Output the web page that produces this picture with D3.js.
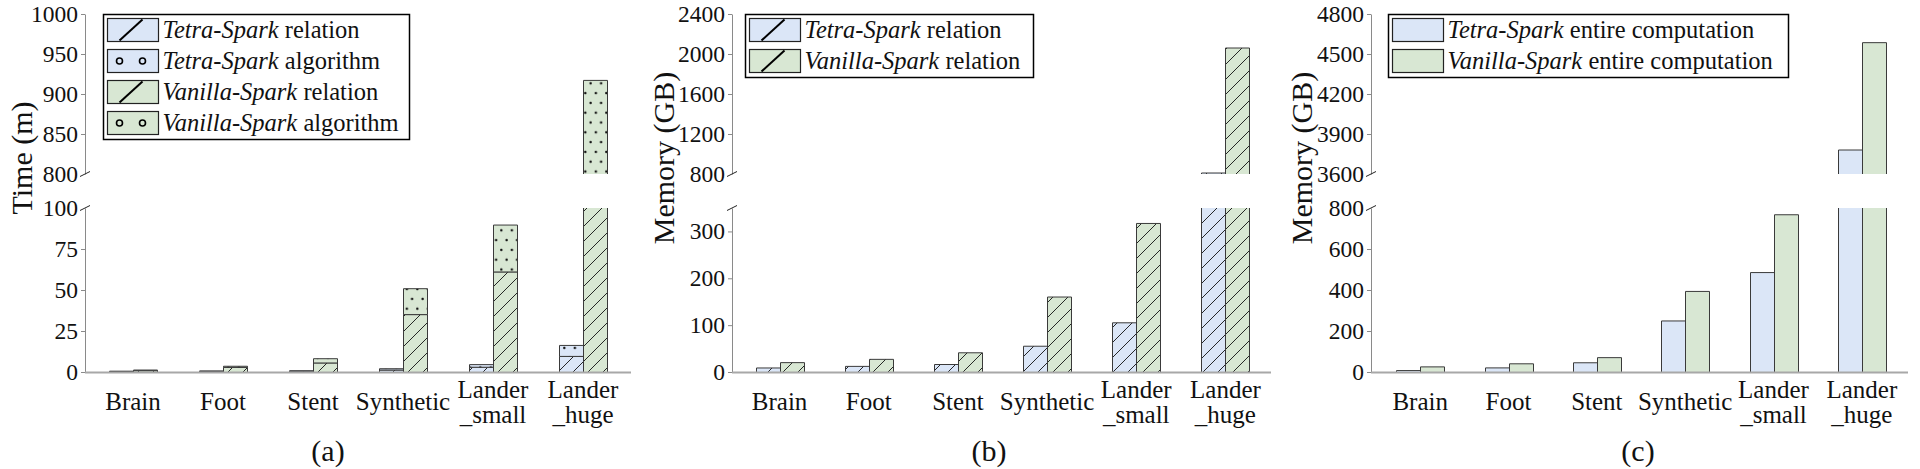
<!DOCTYPE html>
<html><head><meta charset="utf-8">
<script src="https://cdn.jsdelivr.net/npm/d3@7"></script>
<style>
body{margin:0;background:#fff}
svg{display:block}
text{font-family:"Liberation Serif","Times New Roman",serif}
</style>
</head><body>
<svg id="chart" width="1920" height="469"></svg>
<script>
// ---------------- data ----------------
const categories = [["Brain"],["Foot"],["Stent"],["Synthetic"],["Lander","_small"],["Lander","_huge"]];

// (a) time in minutes
const timeTetraRelation    = [0.3, 0.4, 0.5, 1.2, 2.9, 9.5];
const timeTetraAlgorithm   = [0.2, 0.2, 0.2, 0.8, 1.6, 6.7];
const timeVanillaRelation  = [0.8, 2.8, 5.5, 35, 61, 600];
const timeVanillaAlgorithm = [0.4, 0.7, 2.6, 15.8, 28.6, 317];

// (b) memory of relation (GB)
const memRelationTetra   = [8.6, 12, 16, 55, 105, 810];
const memRelationVanilla = [20, 27, 41, 160, 317, 2060];

// (c) memory of entire computation (GB)
const memEntireTetra   = [7, 20, 45, 249, 485, 3780];
const memEntireVanilla = [25, 40, 70, 393, 767, 4585];

// ticks
const ticksALow  = [0, 25, 50, 75, 100];
const ticksAHigh = [800, 850, 900, 950, 1000];
const ticksBLow  = [0, 100, 200, 300];
const ticksBHigh = [800, 1200, 1600, 2000, 2400];
const ticksCLow  = [0, 200, 400, 600, 800];
const ticksCHigh = [3600, 3900, 4200, 4500, 4800];

const legendA = [["Tetra-Spark"," relation"],["Tetra-Spark"," algorithm"],["Vanilla-Spark"," relation"],["Vanilla-Spark"," algorithm"]];
const legendB = [["Tetra-Spark"," relation"],["Vanilla-Spark"," relation"]];
const legendC = [["Tetra-Spark"," entire computation"],["Vanilla-Spark"," entire computation"]];

// ---------------- style ----------------
const BLUE = "#dbe6f7", GREEN = "#d8e7d3";
const BAR_STROKE = "#3a3a3a", AXIS = "#8a8a8a";
const Y0 = 372, YLOWTOP = 208, YHIGHBOT = 174, YTOP = 14;
const BW = 24;

const svg = d3.select("#chart");
const defs = svg.append("defs");

function hatch(id, color){
  const p = defs.append("pattern").attr("id", id).attr("patternUnits","userSpaceOnUse")
    .attr("width", 15).attr("height", 15);
  p.append("rect").attr("width",15).attr("height",15).attr("fill",color);
  p.append("path").attr("d","M-2,17 L17,-2 M-4,4 L4,-4 M11,19 L19,11")
    .attr("stroke","#111").attr("stroke-width",0.9).attr("fill","none");
}
function dots(id, color){
  const p = defs.append("pattern").attr("id", id).attr("patternUnits","userSpaceOnUse")
    .attr("width", 10.5).attr("height", 19.6);
  p.append("rect").attr("width",10.5).attr("height",19.6).attr("fill",color);
  p.append("circle").attr("cx",2.6).attr("cy",4.9).attr("r",1.25).attr("fill","#111");
  p.append("circle").attr("cx",7.85).attr("cy",14.7).attr("r",1.25).attr("fill","#111");
}
hatch("hB", BLUE); hatch("hG", GREEN); dots("dB", BLUE); dots("dG", GREEN);

// ---------------- panels ----------------
const panels = [
  { x0: 85, xr: [88, 628], xEnd: 631, low: [0,100], high: [800,1000], tl: ticksALow, th: ticksAHigh,
    title: "Time (m)", titleX: 32, caption: "(a)", capX: 328,
    series: [
      { dx: -BW, segs: [{v: timeTetraRelation, f: "url(#hB)"}, {v: timeTetraAlgorithm, f: "url(#dB)"}] },
      { dx: 0,   segs: [{v: timeVanillaRelation, f: "url(#hG)"}, {v: timeVanillaAlgorithm, f: "url(#dG)"}] }
    ],
    legend: { x: 103, w: 306, items: legendA, sw: [
      {fill: BLUE, mark: "line"}, {fill: BLUE, mark: "rings"}, {fill: GREEN, mark: "line"}, {fill: GREEN, mark: "rings"}] }
  },
  { x0: 732, xr: [735, 1270], xEnd: 1271, low: [0,350], high: [800,2400], tl: ticksBLow, th: ticksBHigh,
    title: "Memory (GB)", titleX: 674, caption: "(b)", capX: 989,
    series: [
      { dx: -BW, segs: [{v: memRelationTetra, f: "url(#hB)"}] },
      { dx: 0,   segs: [{v: memRelationVanilla, f: "url(#hG)"}] }
    ],
    legend: { x: 745, w: 288, items: legendB, sw: [{fill: BLUE, mark: "line"}, {fill: GREEN, mark: "line"}] }
  },
  { x0: 1371, xr: [1376, 1906], xEnd: 1908, low: [0,800], high: [3600,4800], tl: ticksCLow, th: ticksCHigh,
    title: "Memory (GB)", titleX: 1312, caption: "(c)", capX: 1638,
    series: [
      { dx: -BW, segs: [{v: memEntireTetra, f: BLUE}] },
      { dx: 0,   segs: [{v: memEntireVanilla, f: GREEN}] }
    ],
    legend: { x: 1388, w: 400, items: legendC, sw: [{fill: BLUE, mark: "none"}, {fill: GREEN, mark: "none"}] }
  }
];

panels.forEach(P => {
  const g = svg.append("g");
  const x = d3.scaleBand().domain(d3.range(categories.length)).range(P.xr);
  const yL = d3.scaleLinear().domain(P.low).range([Y0, YLOWTOP]);
  const yH = d3.scaleLinear().domain(P.high).range([YHIGHBOT, YTOP]);

  function drawPart(bx, v0, v1, fill, y, isLow){
    let a, b, topClosed, botClosed;
    if (isLow){
      const lowMax = P.low[1];
      if (v0 >= lowMax) return;
      a = v0; b = Math.min(v1, lowMax); topClosed = v1 <= lowMax; botClosed = v0 > 0;
    } else {
      const high = P.high;
      if (v1 <= high[0]) return;
      a = Math.max(v0, high[0]); b = Math.min(v1, high[1]); topClosed = v1 <= high[1]; botClosed = v0 >= high[0];
    }
    const yb = y(a), yt = y(b);
    g.append("rect").attr("x", bx).attr("y", yt).attr("width", BW).attr("height", Math.max(0, yb - yt))
      .attr("fill", fill);
    let d = `M${bx},${yb} L${bx},${yt} M${bx+BW},${yb} L${bx+BW},${yt}`;
    if (topClosed) d += ` M${bx},${yt} L${bx+BW},${yt}`;
    if (botClosed) d += ` M${bx},${yb} L${bx+BW},${yb}`;
    g.append("path").attr("d", d).attr("stroke", BAR_STROKE).attr("stroke-width", 1).attr("fill", "none");
  }

  // bars
  categories.forEach((c, i) => {
    const cx = x(i) + x.bandwidth()/2;
    P.series.forEach(s => {
      let acc = 0;
      s.segs.forEach(seg => {
        const v0 = acc, v1 = acc + seg.v[i];
        acc = v1;
        const bx = Math.round(cx + s.dx) + 0.5;
        drawPart(bx, v0, v1, seg.f, yL, true);
        drawPart(bx, v0, v1, seg.f, yH, false);
      });
    });
  });

  // axes
  const axL = g.append("g").attr("transform", `translate(${P.x0},0)`)
    .call(d3.axisLeft(yL).tickValues(P.tl).tickSize(4).tickPadding(3).tickSizeOuter(0).tickFormat(d3.format("d")));
  const axH = g.append("g").attr("transform", `translate(${P.x0},0)`)
    .call(d3.axisLeft(yH).tickValues(P.th).tickSize(4).tickPadding(3).tickSizeOuter(0).tickFormat(d3.format("d")));
  [axL, axH].forEach(ax => {
    ax.select(".domain").attr("stroke", AXIS).attr("stroke-width", 1);
    ax.selectAll(".tick line").attr("stroke", AXIS);
    ax.selectAll(".tick text").attr("font-size", 23.5).attr("fill", "#111")
      .style("font-family", '"Liberation Serif", serif');
  });
  axL.selectAll(".tick").filter(d => d === P.low[1]).select("line").remove();
  axH.selectAll(".tick").filter(d => d === P.high[0]).select("line").remove();

  // break slashes
  [yL(P.low[1]), yH(P.high[0])].forEach(yy => {
    g.append("line").attr("x1", P.x0 - 5).attr("y1", yy + 2.5).attr("x2", P.x0 + 5).attr("y2", yy - 2.5)
      .attr("stroke", "#222").attr("stroke-width", 1);
  });

  // baseline
  g.append("line").attr("x1", P.x0).attr("x2", P.xEnd).attr("y1", Y0 + 0.5).attr("y2", Y0 + 0.5)
    .attr("stroke", "#a8a8a8").attr("stroke-width", 2);

  // x labels (one text element per line)
  categories.forEach((c, i) => {
    const cx = x(i) + x.bandwidth()/2;
    const ys = c.length === 1 ? [410] : [398, 423];
    c.forEach((line, k) => {
      g.append("text").attr("x", cx).attr("y", ys[k]).attr("text-anchor", "middle")
        .attr("font-size", 25).attr("fill", "#111").text(line);
    });
  });

  // y title
  g.append("text").attr("transform", `translate(${P.titleX},158) rotate(-90)`).attr("text-anchor", "middle")
    .attr("font-size", 30).attr("fill", "#111").text(P.title);

  // caption
  g.append("text").attr("x", P.capX).attr("y", 461).attr("text-anchor", "middle")
    .attr("font-size", 30).attr("fill", "#111").text(P.caption);

  // legend
  const L = P.legend;
  const n = L.items.length;
  const lg = g.append("g");
  lg.append("rect").attr("x", L.x + 0.5).attr("y", 14.5).attr("width", L.w).attr("height", n*31 + 1)
    .attr("fill", "#fff").attr("stroke", "#000").attr("stroke-width", 1.5);
  L.items.forEach((it, i) => {
    const sx = L.x + 4.5, sy = 18.5 + i*31;
    const sw = L.sw[i];
    lg.append("rect").attr("x", sx).attr("y", sy).attr("width", 51).attr("height", 23)
      .attr("fill", sw.fill).attr("stroke", "#222").attr("stroke-width", 1.2);
    if (sw.mark === "line") {
      lg.append("line").attr("x1", sx + 12).attr("y1", sy + 22).attr("x2", sx + 35).attr("y2", sy + 1)
        .attr("stroke", "#000").attr("stroke-width", 2);
    } else if (sw.mark === "rings") {
      [12, 35].forEach(ox => lg.append("circle").attr("cx", sx + ox).attr("cy", sy + 11.5).attr("r", 3)
        .attr("fill", "none").attr("stroke", "#000").attr("stroke-width", 1.6));
    }
    const t = lg.append("text").attr("x", sx + 55).attr("y", sy + 19).attr("font-size", 24.5).attr("fill", "#111");
    t.append("tspan").attr("font-style", "italic").text(it[0]);
    t.append("tspan").text(it[1]);
  });
});
</script>
</body></html>
